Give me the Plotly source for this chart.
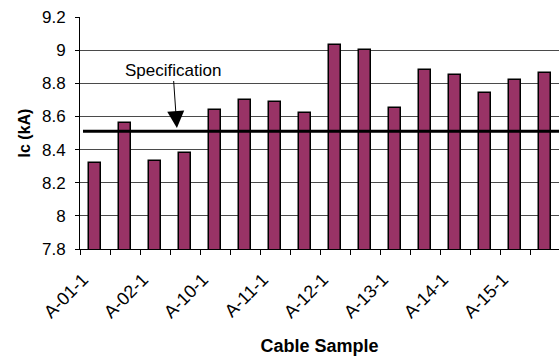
import plotly.graph_objects as go

# Critical current per cable sample (kA)
samples = ["A-01-1", "A-01-2", "A-02-1", "A-02-2", "A-10-1", "A-10-2", "A-11-1", "A-11-2",
           "A-12-1", "A-12-2", "A-13-1", "A-13-2", "A-14-1", "A-14-2", "A-15-1", "A-15-2"]
ic_values = [8.32, 8.56, 8.33, 8.38, 8.64, 8.70, 8.69, 8.62,
             9.03, 9.00, 8.65, 8.88, 8.85, 8.74, 8.82, 8.86]
spec_value = 8.51
shown_labels = samples[::2]

FONT = "Liberation Sans, Arial, sans-serif"
x_pos = list(range(len(samples)))

fig = go.Figure()
fig.add_trace(go.Bar(
    x=x_pos, y=ic_values, width=0.42,
    marker=dict(color="#993366", line=dict(color="black", width=1.5)),
    showlegend=False, hoverinfo="skip",
))
fig.add_trace(go.Scatter(
    x=[-0.4, len(samples) - 0.5], y=[spec_value, spec_value],
    mode="lines", line=dict(color="black", width=3),
    showlegend=False, hoverinfo="skip",
))

fig.add_annotation(
    x=2.73, y=spec_value + 0.02, xref="x", yref="y",
    text="Specification", showarrow=True,
    ax=-4, ay=-58, axref="pixel", ayref="pixel",
    arrowhead=2, arrowsize=3.4, arrowwidth=1, arrowcolor="black",
    font=dict(family=FONT, size=17, color="black"),
)

fig.update_layout(
    width=559, height=358,
    margin=dict(l=80, r=0, t=17, b=109),
    paper_bgcolor="white", plot_bgcolor="white",
    font=dict(family=FONT, size=17, color="black"),
    bargap=0,
)
fig.update_xaxes(
    range=[-0.5, len(samples) - 0.5 - 1 / 30],
    tickmode="array", tickvals=x_pos[::2], ticktext=shown_labels,
    tickangle=-45, ticks="", showgrid=False,
    tickfont=dict(family=FONT, size=18),
    minor=dict(tickvals=[i - 0.5 for i in range(len(samples) + 1)],
               ticks="outside", ticklen=5, tickcolor="black", showgrid=False),
    showline=True, linecolor="black", linewidth=1,
    ticklabelstandoff=12, ticklabelshift=-12,
    title=dict(text="<b>Cable Sample</b>", font=dict(family=FONT, size=18), standoff=18),
    zeroline=False,
)
fig.update_yaxes(
    range=[7.8, 9.2], dtick=0.2, tick0=7.8,
    ticks="outside", ticklen=4, tickcolor="black",
    showgrid=True, gridcolor="#4a4a4a", gridwidth=1,
    showline=True, linecolor="black", linewidth=1,
    ticklabelstandoff=6,
    title=dict(text="<b>Ic (kA)</b>", font=dict(family=FONT, size=16), standoff=7),
    zeroline=False,
)

fig.write_html("out.html")
